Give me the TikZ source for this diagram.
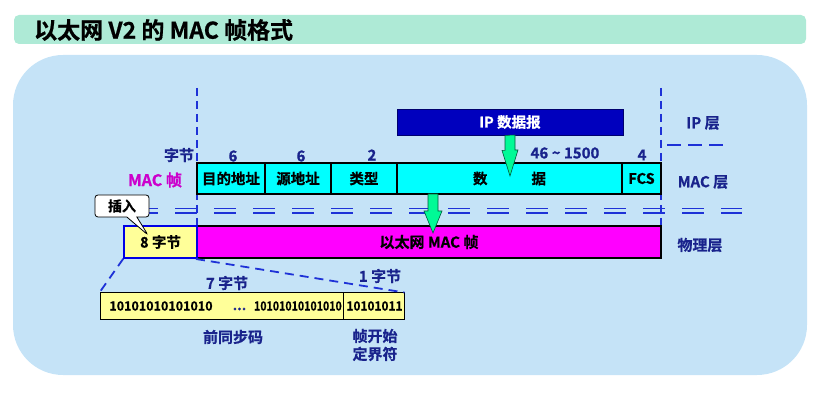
\documentclass[tikz,border=0pt]{standalone}
\usepackage{fontspec}
\setmainfont{Noto Sans CJK SC}[BoldFont={Noto Sans CJK SC Bold}, BoldFeatures={FakeBold=0.6}]
\usetikzlibrary{shapes.callouts}
\definecolor{panelblue}{RGB}{197,227,247}
\definecolor{titlemint}{RGB}{174,234,214}
\definecolor{lblblue}{RGB}{25,35,140}
\definecolor{dashblue}{RGB}{30,50,215}
\definecolor{ipblue}{RGB}{0,0,190}
\definecolor{ipedge}{RGB}{0,0,110}
\definecolor{framemag}{RGB}{204,0,204}
\definecolor{paleyellow}{RGB}{255,255,153}
\definecolor{arrowgreen}{RGB}{0,250,150}
\definecolor{arrowedge}{RGB}{0,90,60}
\definecolor{cellcyan}{RGB}{0,255,255}
\definecolor{barmagenta}{RGB}{255,0,255}
\definecolor{boxblue}{RGB}{0,0,230}
\tikzset{
  fs/.style={font=\bfseries\fontsize{#1}{#1}\selectfont},
  lbl/.style={fs=15, text=lblblue, inner sep=0},
  cell/.style={draw=black, line width=1.3pt, fill=cellcyan, minimum height=31pt, inner sep=0, fs=14.5},
  vdash/.style={draw=dashblue, line width=1.8pt, dash pattern=on 8pt off 5pt},
  hdash/.style={draw=dashblue, line width=1.8pt, dash pattern=on 22pt off 17pt},
  tdash/.style={draw=dashblue, line width=1.8pt, dash pattern=on 9pt off 6pt},
  garrow/.style={fill=arrowgreen, draw=arrowedge, line width=0.6pt, line join=miter},
  bits/.style={fs=12.5, inner sep=0}
}
\begin{document}
\begin{tikzpicture}[x=1pt,y=-1pt]
\useasboundingbox (0,0) rectangle (819,403);
% panel and title
\fill[panelblue, rounded corners=50pt] (13,55) rectangle (807,375);
\node[fill=titlemint, rounded corners=5pt, minimum width=792pt, minimum height=29pt, inner sep=0] (titlebar) at (410,29.5) {};
\node[fs=23, anchor=west, inner sep=0] (title) at (34,30) {以太网 V2 的 MAC 帧格式};
% double dashed lines
\draw[hdash] (136,208.5) -- (742,208.5);
\draw[hdash] (136,212.8) -- (742,212.8);
% vertical dashed lines
\coordinate (vl1) at (197,88);
\coordinate (vl2) at (197,226);
\coordinate (vr1) at (661,88);
\coordinate (vr2) at (661,226);
\draw[vdash] (vl1) -- (vl2);
\draw[vdash] (vr1) -- (vr2);
% IP layer separator
\coordinate (ips1) at (667,145);
\coordinate (ips2) at (729,145);
\draw[draw=dashblue, line width=1.8pt, dash pattern=on 14pt off 7pt] (ips1) -- (ips2);
% labels
\node[lbl] (zj) at (179,155) {字节};
\node[lbl] (n6a) at (233,156) {6};
\node[lbl] (n6b) at (301,156) {6};
\node[lbl] (n2) at (372,155) {2};
\node[lbl] (n46) at (565,153) {46 \textasciitilde{} 1500};
\node[lbl] (n4) at (642,155) {4};
\node[lbl] (iplayer) at (703,123) {IP 层};
\node[lbl] (maclayer) at (703,182) {MAC 层};
\node[lbl] (phylayer) at (700,245) {物理层};
\node[fs=16, text=framemag, inner sep=0] (macframe) at (155,180) {MAC 帧};
% IP datagram
\node[fill=ipblue, draw=ipedge, line width=0.8pt, minimum width=226pt, minimum height=26pt, inner sep=0, fs=14.5, text=white] (ip) at (510,122) {IP 数据报};
% MAC frame cells
\node[cell, minimum width=68pt] (dst) at (231,178.5) {目的地址};
\node[cell, minimum width=66pt] (src) at (298,178.5) {源地址};
\node[cell, minimum width=66pt] (typ) at (364,178.5) {类型};
\node[cell, minimum width=225pt] (dat) at (509.5,178.5) {数\hspace{44pt}据};
\node[cell, minimum width=39pt] (fcs) at (641.5,178.5) {FCS};
% physical layer
\node[draw=black, line width=2pt, fill=barmagenta, minimum width=464pt, minimum height=32pt, inner sep=0, fs=15] (phy) at (429,242) {以太网 MAC 帧};
\node[draw=boxblue, line width=1.5pt, fill=paleyellow, minimum width=73pt, minimum height=32pt, inner sep=0, fs=14.5] (pre8) at (160.5,242) {8 字节};
% arrows
\coordinate (t1) at (510,176);
\draw[garrow] (ip.south) ++(-5,0) -- ++(0,15) -- ++(-3,0) -- (t1) -- ++(8,-26) -- ++(-3,0) -- ++(0,-15) -- cycle;
\coordinate (s2) at (433,194);
\coordinate (t2) at (433,233);
\draw[garrow] (s2) ++(-5,0) -- ++(0,17) -- ++(-4,0) -- (t2) -- ++(9,-22) -- ++(-4,0) -- ++(0,-17) -- cycle;
% preamble detail
\node[draw=black, line width=1pt, fill=paleyellow, minimum width=243pt, minimum height=26pt, inner sep=0] (syn) at (221.5,306) {};
\node[draw=black, line width=1pt, fill=paleyellow, minimum width=61pt, minimum height=26pt, inner sep=0] (sfd) at (373.5,306) {};
\draw[tdash] (pre8.south west) -- (syn.north west);
\draw[tdash] (phy.south west) -- (sfd.north east);
\node[bits] (b1) at (161,306) {10101010101010};
\node[fs=14, text=lblblue, inner sep=0] (dots) at (239.5,309) {...};
\node[bits, anchor=east] (b2) at (342,306) {\scalebox{0.85}[1]{10101010101010}};
\node[bits] (b3) at (374.5,306) {\scalebox{0.95}[1]{10101011}};
\node[lbl] (seven) at (227,283) {7 字节};
\node[lbl] (one) at (380,276) {1 字节};
\node[lbl] (qtbm) at (233,337) {前同步码};
\node[lbl, align=center, font=\bfseries\fontsize{15}{18}\selectfont] (zks) at (375,345) {帧开始\\定界符};
% callout
\node[rectangle callout, draw=black, fill=white, line width=0.8pt, rounded corners=3pt, minimum width=54pt, minimum height=22pt, inner sep=0, fs=14, callout absolute pointer={(148,235)}, callout pointer width=10pt] (insert) at (122,206) {插入};
\end{tikzpicture}
\end{document}
